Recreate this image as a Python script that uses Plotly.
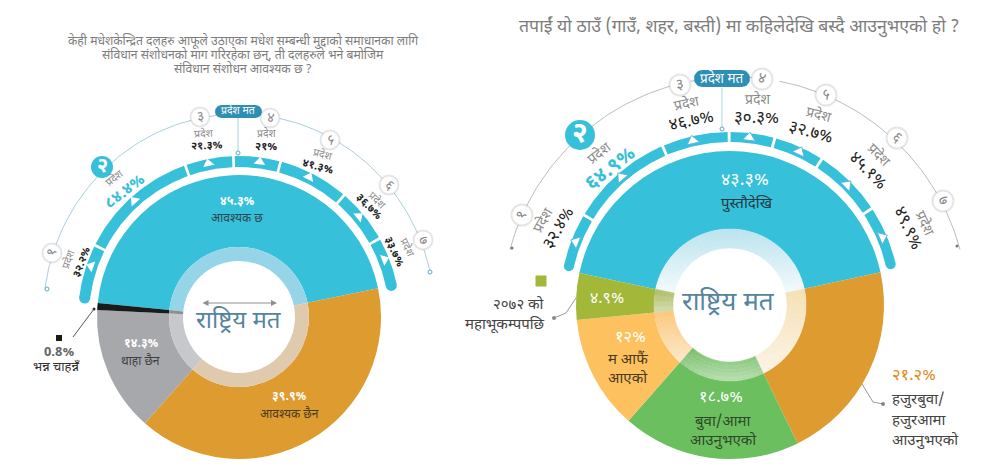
import numpy as np
import plotly.graph_objects as go

FONT = "Noto Sans Devanagari, Lohit Devanagari, Mukta, Hind, Noto Sans, sans-serif"

# ---------- data ----------
left_cats = ["आवश्यक छ", "आवश्यक छैन", "थाहा छैन", "भन्न चाहन्नँ"]
left_vals = [45.3, 39.9, 14.3, 0.8]
left_labels = ["४५.३%", "३९.९%", "१४.३%", "0.8%"]
right_cats = ["पुस्तौदेखि", "हजुरबुवा/हजुरआमा आउनुभएको", "बुवा/आमा आउनुभएको", "म आफैं आएको", "२०७२ को महाभूकम्पपछि"]
right_vals = [43.3, 21.2, 18.7, 12.0, 4.9]
right_labels = ["४३.३%", "२१.२%", "१८.७%", "१२%", "४.९%"]
provinces = ["१", "२", "३", "४", "५", "६", "७"]
left_prov = ["३२.२%", "८४.४%", "२१.३%", "२१%", "४१.३%", "३६.७%", "३३.७%"]
right_prov = ["३२.४%", "६४.९%", "४६.७%", "३०.३%", "३२.७%", "४५.१%", "४९.९%"]
left_spans = [20, 44, 17.5, 17, 25.8, 20, 18]
right_spans = [18.8, 35.8, 23.1, 15.6, 17.4, 23.9, 20.7]
left_marks = [-71, -42, -11.3, 7.6, 26.6, 50, 68.4]
right_marks = [-68.7, -41, -13, 6.7, 24.8, 45, 67]

# ---------- styling ----------
BLUE, ORANGE, GREY, BLACK = "#37c0da", "#de9b2f", "#a6a8ac", "#1a1a1a"
GREEN, LORANGE, OLIVE = "#6bbf5e", "#fec160", "#a3b838"
W, H = 1005, 471

fig = go.Figure()
ann = []


def T(x, y, text, size=12, color="#444", angle=0, anchor="center", bold=False):
    if bold:
        text = f"<b>{text}</b>"
    ann.append(dict(x=x, y=y, xref="x", yref="y", text=text, showarrow=False, textangle=angle,
                    xanchor=anchor, yanchor="middle", font=dict(size=size, color=color, family=FONT)))


def dom(cx, cy, r):
    return dict(x=[(cx - r) / W, (cx + r) / W], y=[1 - (cy + r) / H, 1 - (cy - r) / H])


def pie(vals, colors, cx, cy, r, hole, rot, line=None):
    fig.add_trace(go.Pie(values=vals, domain=dom(cx, cy, r), hole=hole, rotation=rot, sort=False,
                         direction="clockwise", textinfo="none", hoverinfo="skip", showlegend=False,
                         marker=dict(colors=colors, line=dict(width=line if line else 0,
                                                              color=colors if line else "white"))))


def pol(cx, cy, r, th):
    t = np.radians(th)
    return cx + r * np.sin(t), cy - r * np.cos(t)


def poly(xs, ys, color):
    fig.add_trace(go.Scatter(x=xs, y=ys, mode="lines", fill="toself", fillcolor=color,
                             line=dict(width=0, color=color), hoverinfo="skip", showlegend=False))


def line(xs, ys, color, width=1):
    fig.add_trace(go.Scatter(x=xs, y=ys, mode="lines", line=dict(color=color, width=width),
                             hoverinfo="skip", showlegend=False))


def dots(xs, ys, color, size, symbol="circle", lc=None, lw=0, angle=0):
    fig.add_trace(go.Scatter(x=xs, y=ys, mode="markers", hoverinfo="skip", showlegend=False,
                             marker=dict(color=color, size=size, symbol=symbol, angle=angle,
                                         line=dict(color=lc or color, width=lw))))


def ring(cx, cy, r0, r1, start, spans, gap=1.0):
    a = start
    for s in spans:
        th = np.linspace(a + gap / 2, a + s - gap / 2, 40)
        xo, yo = pol(cx, cy, r1, th)
        xi, yi = pol(cx, cy, r0, th[::-1])
        poly(np.r_[xo, xi], np.r_[yo, yi], BLUE)
        a += s
    rm, wd = (r0 + r1) / 2, r1 - r0
    xa, ya = pol(cx, cy, rm, np.array([start + gap / 2, start + sum(spans) - gap / 2]))
    dots(xa, ya, BLUE, wd)


def pill(x0, x1, y0, y1, color):
    r = (y1 - y0) / 2
    th = np.linspace(0, 180, 15)
    xr, yr = pol(x1 - r, y0 + r, r, th)
    xl, yl = pol(x0 + r, y0 + r, r, th + 180)
    poly(np.r_[xr, xl], np.r_[yr, yl], color)


def hexmix(a, b, t):
    ca = np.array([int(a[i:i + 2], 16) for i in (1, 3, 5)])
    cb = np.array([int(b[i:i + 2], 16) for i in (1, 3, 5)])
    c = (ca + (cb - ca) * np.clip(t, 0, 1)).round().astype(int)
    return "#%02x%02x%02x" % tuple(c)


# ---------- LEFT chart ----------
LX, LY = 239, 317
# outer guide arc (slightly flattened ellipse, as drawn)
th = np.linspace(-81.7, -6, 60)
line(LX + 196 * np.sin(np.radians(th)), LY - 203 * np.cos(np.radians(th)), "#a9cfe0")
th = np.linspace(6, 76.7, 60)
line(LX + 196 * np.sin(np.radians(th)), LY - 203 * np.cos(np.radians(th)), "#a9cfe0")
dots([47, 430], [289, 272], "white", 4, lc="#5da9c7", lw=1)
line([238, 238], [118, 153], "#a9cfe0")
dots([238], [153], "white", 4, lc="#5da9c7", lw=1)
ring(LX, LY, 150, 161, -83.5, left_spans)
for m in left_marks:
    x, y = pol(LX, LY, 156.5, m)
    dots([x], [y], "white", 10, "triangle-up", angle=m)
pill(215, 262, 105, 118, "#2e8fb5")
T(238.5, 111, "प्रदेश मत", 10.5, "white")

lc = [(52, 253), (102, 167), (200, 117), (270, 118), (330, 140), (389, 185), (423, 240)]
lr = [-78, 0, -10, 8, 25, 45, 68]
for i, (x, y) in enumerate(lc):
    if i == 1:
        dots([x], [y], BLUE, 22)
        T(x, y, provinces[i], 20, "white", bold=True)
    else:
        dots([x], [y], "white", 19, lc="rgba(0,0,0,0.10)", lw=2)
        T(x, y, provinces[i], 14, "#888", angle=lr[i])
lp = [((69, 259), (82, 262), -70), ((115, 178), (125, 192), -38), ((204, 134), (207, 146), -3),
      ((267, 134), (266, 147), 0), ((323, 155), (318, 167), 15), ((377, 201), (369, 207), 45),
      ((407, 248), (394, 252), 65)]
for i, (a, b, ang) in enumerate(lp):
    T(a[0], a[1], "प्रदेश", 10.5, "#8a8a8a", angle=ang)
    T(b[0], b[1], left_prov[i], 16 if i == 1 else 11, BLUE if i == 1 else "#222", angle=ang, bold=True)

lrot = -84.3
pie(left_vals, [BLUE, ORANGE, GREY, BLACK], LX, LY, 142, 70 / 142, lrot)
pie(left_vals, ["#96d5e8", "#dfcaae", "#c6c8cb", "#8f8f8f"], LX, LY, 70, 56 / 70, lrot)

T(LX, 322, "राष्ट्रिय मत", 24, "#55849f")
ann.append(dict(x=277, y=303, ax=201, ay=303, xref="x", yref="y", axref="x", ayref="y", text="",
                showarrow=True, arrowside="end+start", arrowhead=2, arrowsize=1, arrowwidth=1.2,
                arrowcolor="#8f8f8f"))
T(237, 202, left_labels[0], 12, "white", bold=True)
T(237, 219, left_cats[0], 12, "#2d4650")
T(289, 397, left_labels[1], 12, "white", bold=True)
T(289, 414, left_cats[1], 12, "#4a3a1c")
T(141, 344, left_labels[2], 12, "white", bold=True)
T(140, 361, left_cats[2], 12, "#3f3f3f")
dots([59], [338], BLACK, 6, "square")
T(59, 352, left_labels[3], 13, "#666", bold=True)
T(56, 367, left_cats[3], 13, "#333")
line([73, 94], [337, 309], "#555")
dots([94], [309], "#333", 3)
for y, s in zip([41, 55, 69], ["केही मधेशकेन्द्रित दलहरु आफूले उठाएका मधेश सम्बन्धी मुद्दाको समाधानका लागि",
                               "संविधान संशोधनको माग गरिरहेका छन्, ती दलहरुले भने बमोजिम",
                               "संविधान संशोधन आवश्यक छ ?"]):
    T(243, y, s, 12.2, "#7d7d7d")

# ---------- RIGHT chart ----------
RX, RY = 730, 305
AX, AY = 735, 310
for a, b in ((-75, -14.5), (-11, 6), (11, 75)):
    x, y = pol(AX, AY, 233, np.linspace(a, b, 60))
    line(x, y, "#bdbdbd")
dots([512, 957], [248, 246], "#777", 3)
line([722, 722], [88, 129], "#a9d6e4")
dots([722], [129], "white", 4, lc="#5da9c7", lw=1)
ring(RX, 302, 160, 170, -78, right_spans)
for m in right_marks:
    x, y = pol(RX, 302, 165.5, m)
    dots([x], [y], "white", 11, "triangle-up", lc="#5db7e8", lw=1, angle=m)
pill(694, 750, 70, 87, "#2e8fb5")
T(722, 78.5, "प्रदेश मत", 13.5, "white")

rc = [(522, 215), (580, 135), (680, 85), (762, 79), (826, 95), (897, 138), (943, 201)]
rr = [-70, 0, -10, 15, 20, 45, 70]
for i, (x, y) in enumerate(rc):
    if i == 1:
        dots([x], [y], BLUE, 30)
        T(x, y, provinces[i], 28, "white", bold=True)
    else:
        dots([x], [y], "white", 21, lc="rgba(0,0,0,0.10)", lw=2)
        T(x, y, provinces[i], 15, "#888", angle=rr[i])
rp = [((543, 221), (559, 229), -60), ((599, 154), (611, 169), -38), ((686, 104), (691, 122), -12),
      ((757, 100), (756, 119), 0), ((818, 115), (810, 133), 15), ((878, 155), (867, 171), 45),
      ((924, 223), (907, 228), 65)]
for i, (a, b, ang) in enumerate(rp):
    T(a[0], a[1], "प्रदेश", 14, "#8a8a8a", angle=ang)
    T(b[0], b[1], right_prov[i], 20 if i == 1 else 17, BLUE if i == 1 else "#222", angle=ang, bold=i == 1)

rrot = -78
pie(right_vals, [BLUE, ORANGE, GREEN, LORANGE, OLIVE], RX, RY, 154, 76 / 154, rrot)

# inner band: a pale wash fading top to bottom inside each slice
wash = [(227, 290, "#b8e2ee", "#f0f9fb"), (290, 375, "#f5e0b5", "#fbf4e6"), (345, 382, "#6fbb62", "#bcdfb3"),
        (312, 358, "#fbc87c", "#fde6c4"), (288, 316, "#aab95e", "#dde3c2")]
edges = np.r_[0, np.cumsum(right_vals)] * 360 / sum(right_vals)
RB = np.linspace(57, 76, 6)
for r0, r1 in zip(RB[:-1], RB[1:]):
    rm = (r0 + r1) / 2
    vals, cols = [], []
    for k in range(len(right_vals)):
        n = max(2, int((edges[k + 1] - edges[k]) / 4))
        ee = np.linspace(edges[k], edges[k + 1], n + 1)
        for a, b in zip(ee[:-1], ee[1:]):
            _, y = pol(RX, RY, rm, rrot + (a + b) / 2)
            y0, y1, c0, c1 = wash[k]
            vals.append(b - a)
            cols.append(hexmix(c0, c1, (y - y0) / (y1 - y0)))
    pie(vals, cols, RX, RY, r1, r0 / r1, rrot, line=0.5)

T(728, 304, "राष्ट्रिय मत", 26, "#55849f")
T(739, 27, "तपाईं यो ठाउँ (गाउँ, शहर, बस्ती) मा कहिलेदेखि बस्दै आउनुभएको हो ?", 17.7, "#7d7d7d")
T(745, 180, right_labels[0], 18, "white")
T(747, 204, right_cats[0], 15, "#233a44")
T(890, 376, right_labels[1], 16.5, "#e28a22", anchor="left")
for y, s in zip([400, 421, 441], ["हजुरबुवा/", "हजुरआमा", "आउनुभएको"]):
    T(890, y, s, 15, "#444", anchor="left")
line([862, 873, 883], [384, 402, 404], "#999")
dots([883], [404], "#888", 4)
T(721, 398, right_labels[2], 16.5, "white")
T(723, 422, "बुवा/आमा", 15, "#2f4a2a")
T(723, 441, "आउनुभएको", 15, "#2f4a2a")
T(630, 338, right_labels[3], 16.5, "white")
T(628, 360, "म आफैं", 15, "#4a3a1c")
T(628, 379, "आएको", 15, "#4a3a1c")
T(607, 299, right_labels[4], 16, "white")
dots([541], [281], OLIVE, 11, "square")
T(547, 305, "२०७२ को", 15, "#444", anchor="right")
T(547, 325, "महाभूकम्पपछि", 15, "#444", anchor="right")
line([576, 566, 554], [298, 313, 318], "#999")
dots([554], [318], "#888", 4)

fig.update_layout(
    width=W, height=H, autosize=False, margin=dict(l=0, r=0, t=0, b=0),
    paper_bgcolor="white", plot_bgcolor="white", showlegend=False, hovermode=False, annotations=ann,
    xaxis=dict(range=[0, W], visible=False, fixedrange=True, domain=[0, 1]),
    yaxis=dict(range=[H, 0], visible=False, fixedrange=True, domain=[0, 1]),
)
fig.write_html("out.html", config=dict(displayModeBar=False),
               post_script="document.body.style.margin='0';document.body.style.overflow='hidden';")
